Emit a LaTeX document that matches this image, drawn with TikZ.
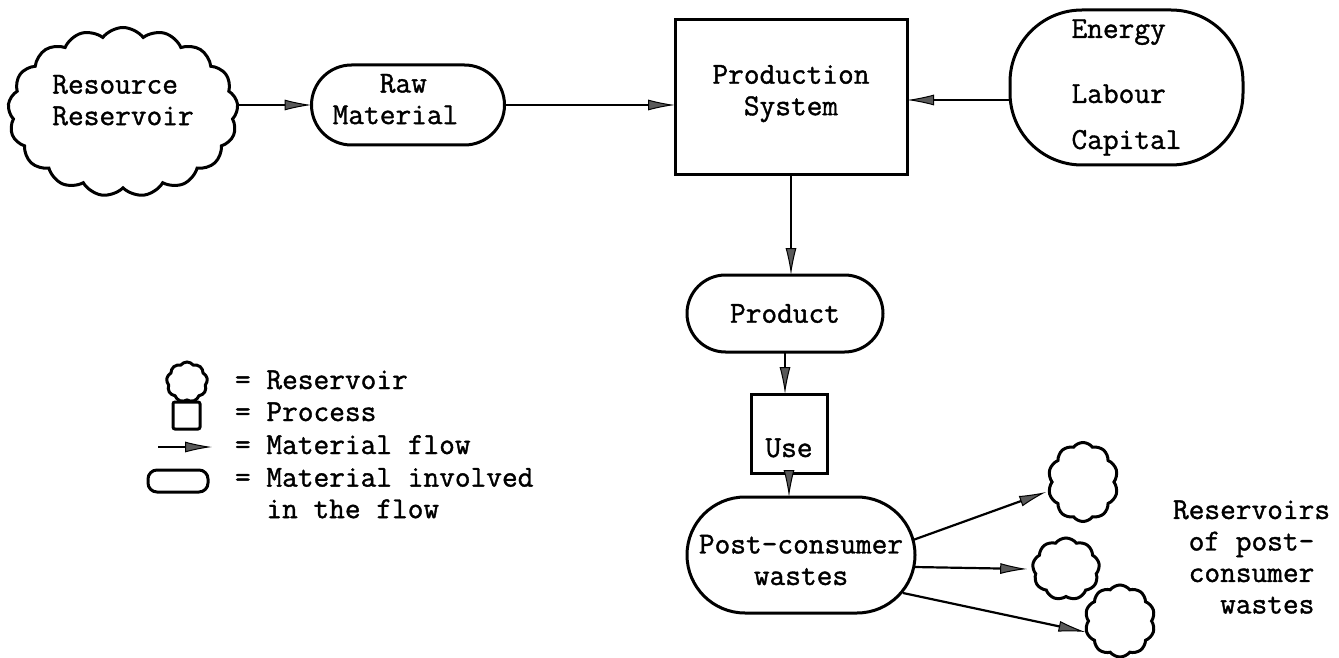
\documentclass[tikz,border=0pt]{standalone}
\usepackage{fontspec}
\newfontfamily\typewriter{Latin Modern Mono}[FakeBold=1.2]
\usetikzlibrary{shapes.symbols,shapes.misc,arrows.meta}
\begin{document}
\begin{tikzpicture}[x=1pt,y=-1pt,
  lbl/.style={font=\typewriter\fontsize{30.5}{31.5}\selectfont, inner sep=0pt, outer sep=0pt},
  shp/.style={lbl, draw, line width=3pt},
  proc/.style={shp, rectangle},
  matl/.style={shp, rounded rectangle},
  resv/.style={shp, cloud, cloud puffs=#1, cloud puff arc=105, cloud ignores aspect},
  flow/.style={line width=2.2pt, -{Latex[length=27pt,width=11pt,line width=1pt,fill=black!65]}}]

% page
\fill[white] (0,0) rectangle (1339,658);
\useasboundingbox (0,0) rectangle (1339,658);

% main chain
\node[resv=17, minimum width=230pt, minimum height=169pt, align=left] (source) at (123,112)
  {Resource\\Reservoir\rule[-24pt]{0pt}{24pt}};
\node[matl, minimum width=193pt, minimum height=80pt, align=left] (raw) at (408,105)
  {\phantom{xxx}Raw\\Material\rule{25pt}{0pt}\rule[-12pt]{0pt}{12pt}};
\node[proc, minimum width=232pt, minimum height=155pt, align=center] (prod) at (791,97.5)
  {Production\\System\rule[-14.7pt]{0pt}{14.7pt}};
\node[shp, rectangle, rounded corners=72pt, minimum width=233pt, minimum height=155pt, align=left] (inputs) at (1126.5,87.5)
  {Energy\\[33.5pt]Labour\\[14.5pt]Capital};
\node[matl, minimum width=196pt, minimum height=77pt] (product) at (785,313.5) {Product};
\node[proc, minimum width=76pt, minimum height=79pt, text height=47pt, text depth=0pt] (use) at (789,433.5) {Use};
\node[matl, minimum width=228pt, minimum height=116pt, align=center] (waste) at (801,555)
  {\rule{0pt}{28.6pt}Post-consumer\\wastes};

% waste reservoirs
\node[resv=10, minimum width=70pt, minimum height=79pt] (dump1) at (1083,482) {};
\node[resv=9, minimum width=67pt, minimum height=62pt] (dump2) at (1066,569) {};
\node[resv=10, minimum width=70pt, minimum height=72pt] (dump3) at (1120,621) {};
\node[lbl, anchor=west, align=left] (dumplabel) at (1173,557)
  {Reservoirs\\\phantom{x}of post-\\\phantom{x}consumer\\\phantom{xxx}wastes};

% flows
\draw[flow] (source.east |- raw.west) -- (raw.west);
\draw[flow] (raw.east) -- (raw.east -| prod.west);
\coordinate (feed) at ([shift={(0,12.5)}]inputs.west);
\draw[flow] (feed) -- (feed -| prod.east);
\draw[flow] (prod.south) -- (prod.south |- product.north);
\draw[flow] (product.south) -- (product.south |- use.north);
\draw[flow] (use.south) -- (use.south |- waste.north);
\draw[flow] ([shift={(-2,-15)}]waste.east) -- ([shift={(-6,10)}]dump1.west);
\draw[flow] ([shift={(-1,12)}]waste.east) -- ([shift={(-6,0)}]dump2.west);
\draw[flow] ([shift={(-12,38)}]waste.east) -- ([shift={(-3,11)}]dump3.west);

% key
\node[resv=9, minimum width=41pt, minimum height=40pt] (keyres) at (187,382) {};
\node[proc, minimum width=27pt, minimum height=27pt, rounded corners=2pt] (keyproc) at (186.5,415.5) {};
\coordinate (keyfrom) at (158,447);
\coordinate (keyto) at (212,447);
\draw[flow] (keyfrom) -- (keyto);
\node[shp, rectangle, rounded corners=9pt, minimum width=60pt, minimum height=22pt] (keymat) at (178,481) {};
\node[lbl, anchor=base west] (keyrestext) at (235,389) {= Reservoir};
\node[lbl, anchor=base west] (keyproctext) at (235,421) {= Process};
\node[lbl, anchor=base west] (keyflowtext) at (235,454) {= Material flow};
\node[lbl, anchor=north west, align=left] (keymattext) at (235,468)
  {= Material involved\\\phantom{xx}in the flow};
\end{tikzpicture}
\end{document}
